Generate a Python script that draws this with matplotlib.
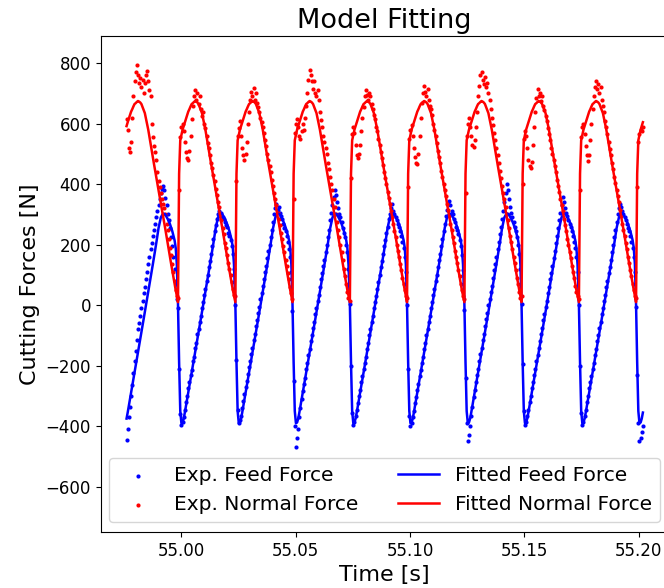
import matplotlib

matplotlib.use("Agg")
import matplotlib.pyplot as plt
import numpy as np

# start of each tooth pass [s]; the record begins and ends part-way through a pass
pass_starts = [54.9735, 54.9985, 55.0236, 55.0486, 55.0737, 55.0987, 55.1238, 55.1488, 55.1739, 55.1989]
sample_step = 0.0005  # s
first_pass_skip = 5  # samples of the first pass that precede the record

# fitted force over one tooth pass [N]
fit_feed = [5, -190, -350, -390, -388, -375, -355, -333, -312, -290,
            -268, -247, -225, -202, -180, -157, -135, -112, -90, -67,
            -45, -22, 0, 22, 45, 67, 90, 112, 135, 158,
            182, 205, 230, 255, 273, 290, 297, 303, 302, 300,
            292, 285, 277, 268, 257, 245, 230, 215, 190, 135]
fit_normal = [10, 435, 545, 562, 580, 592, 605, 617, 628, 640,
              648, 657, 665, 668, 672, 675, 673, 670, 665, 655,
              645, 635, 617, 598, 580, 557, 533, 510, 488, 467,
              445, 423, 402, 380, 358, 337, 315, 293, 272, 250,
              227, 203, 180, 158, 137, 115, 93, 72, 50, 31]

# measured feed force per pass [N]
exp_feed = [
    [-445, -410, -370, -335, -300, -265, -225, -185, -150, -115,
     -80, -60, -35, -10, 15, 40, 60, 85, 110, 135,
     160, 185, 205, 230, 250, 270, 290, 310, 330, 350,
     370, 385, 395, 380, 355, 330, 300, 280, 255, 225,
     195, 160, 120, 70, 20],
    [-10, -210, -360, -395, -385, -370, -345, -320, -300, -275,
     -255, -230, -215, -185, -170, -140, -125, -95, -80, -55,
     -35, -10, 10, 35, 55, 80, 100, 125, 145, 170,
     195, 220, 245, 265, 285, 300, 310, 295, 305, 290,
     285, 275, 265, 260, 240, 230, 215, 195, 170, 120],
    [0, -180, -345, -390, -380, -365, -340, -318, -295, -270,
     -250, -228, -205, -185, -160, -140, -115, -95, -70, -50,
     -25, -5, 20, 40, 65, 85, 110, 130, 155, 180,
     200, 225, 250, 275, 300, 320, 335, 315, 325, 305,
     295, 285, 270, 255, 245, 230, 210, 185, 160, 110],
    [-20, -250, -400, -468, -440, -410, -370, -340, -310, -285,
     -260, -240, -210, -190, -165, -145, -120, -100, -75, -55,
     -30, -10, 15, 35, 60, 85, 105, 130, 150, 175,
     200, 225, 250, 280, 305, 330, 357, 380, 365, 340,
     320, 300, 290, 275, 255, 240, 225, 200, 175, 120],
    [5, -200, -355, -396, -385, -365, -345, -325, -300, -280,
     -255, -235, -210, -190, -170, -145, -125, -100, -80, -55,
     -35, -10, 10, 30, 55, 75, 100, 125, 145, 170,
     195, 215, 240, 260, 285, 300, 320, 335, 310, 300,
     290, 280, 270, 260, 245, 230, 210, 190, 160, 110],
    [0, -210, -365, -400, -390, -370, -350, -325, -305, -280,
     -260, -235, -215, -190, -170, -145, -125, -100, -80, -55,
     -35, -10, 10, 35, 55, 80, 100, 125, 150, 170,
     195, 220, 245, 270, 295, 315, 335, 345, 330, 310,
     300, 285, 275, 260, 250, 235, 215, 195, 165, 115],
    [-15, -240, -390, -450, -430, -400, -365, -335, -305, -280,
     -255, -230, -210, -185, -160, -140, -115, -95, -70, -45,
     -25, 0, 20, 45, 65, 90, 115, 135, 160, 185,
     210, 235, 260, 285, 310, 340, 370, 400, 380, 350,
     325, 305, 290, 275, 260, 245, 225, 200, 170, 120],
    [5, -195, -350, -395, -385, -365, -345, -320, -300, -275,
     -255, -230, -210, -185, -165, -140, -120, -95, -75, -50,
     -30, -5, 15, 40, 60, 85, 105, 130, 155, 180,
     205, 230, 255, 280, 305, 330, 358, 340, 320, 305,
     295, 280, 270, 260, 245, 230, 210, 190, 160, 110],
    [0, -200, -355, -395, -385, -365, -345, -320, -300, -275,
     -255, -235, -210, -190, -165, -145, -120, -100, -75, -55,
     -30, -10, 15, 35, 60, 80, 105, 125, 150, 175,
     200, 225, 250, 275, 300, 320, 335, 325, 310, 300,
     290, 280, 270, 255, 245, 230, 210, 190, 160, 110],
    [-5, -230, -390, -450, -440, -420, -400],
]

# measured normal force per pass [N]
exp_normal = [
    [615, 580, 520, 505, 540, 620, 690, 740, 770, 795,
     760, 735, 750, 720, 745, 700, 735, 760, 775, 740,
     710, 690, 600, 555, 525, 505, 480, 440, 410, 390,
     370, 350, 335, 320, 300, 270, 250, 220, 190, 165,
     135, 110, 80, 50, 30],
    [25, 380, 555, 590, 600, 575, 540, 505, 485, 480,
     510, 560, 615, 660, 690, 711, 680, 700, 665, 690,
     650, 625, 640, 600, 585, 560, 535, 520, 495, 470,
     455, 430, 410, 385, 365, 340, 325, 300, 280, 255,
     235, 205, 190, 165, 140, 120, 100, 75, 55, 35],
    [30, 410, 560, 585, 610, 560, 520, 495, 480, 500,
     540, 600, 640, 680, 705, 690, 717, 680, 700, 670,
     655, 640, 620, 605, 590, 570, 545, 525, 500, 480,
     460, 440, 415, 395, 370, 350, 330, 305, 285, 265,
     240, 220, 195, 175, 150, 130, 105, 85, 60, 40],
    [20, 350, 570, 600, 615, 590, 560, 550, 575, 600,
     580, 620, 660, 700, 745, 777, 760, 740, 715, 740,
     700, 690, 711, 680, 640, 612, 590, 560, 540, 520,
     500, 470, 450, 425, 400, 380, 350, 325, 300, 275,
     250, 225, 200, 175, 150, 120, 95, 70, 45, 25],
    [15, 420, 565, 590, 570, 530, 495, 487, 500, 530,
     575, 620, 655, 690, 711, 695, 680, 700, 690, 665,
     650, 630, 615, 590, 575, 550, 530, 505, 485, 465,
     440, 420, 400, 375, 355, 335, 310, 290, 270, 245,
     225, 200, 180, 160, 135, 115, 90, 70, 50, 30],
    [25, 390, 550, 580, 595, 560, 520, 490, 470, 466,
     500, 560, 620, 670, 700, 725, 705, 690, 715, 680,
     660, 650, 630, 600, 580, 560, 535, 510, 490, 470,
     445, 425, 400, 380, 360, 335, 315, 295, 270, 250,
     225, 205, 180, 160, 140, 115, 95, 70, 50, 30],
    [20, 370, 560, 600, 620, 590, 560, 530, 523, 545,
     590, 640, 690, 725, 760, 770, 745, 730, 755, 720,
     735, 700, 680, 650, 620, 595, 570, 545, 520, 495,
     470, 445, 420, 395, 370, 350, 325, 300, 280, 255,
     230, 210, 185, 160, 140, 115, 90, 70, 45, 25],
    [30, 400, 550, 575, 560, 520, 480, 460, 455, 475,
     530, 590, 640, 685, 714, 690, 700, 675, 690, 660,
     645, 625, 610, 585, 565, 545, 520, 500, 480, 460,
     440, 415, 395, 375, 350, 330, 310, 285, 265, 245,
     220, 200, 175, 155, 130, 110, 90, 65, 45, 30],
    [20, 380, 555, 590, 600, 565, 525, 495, 478, 495,
     545, 600, 650, 690, 720, 740, 715, 730, 700, 720,
     680, 660, 640, 610, 590, 565, 540, 515, 495, 470,
     450, 425, 405, 380, 360, 340, 315, 295, 270, 250,
     230, 205, 185, 160, 140, 115, 95, 70, 50, 30],
    [25, 390, 540, 565, 580, 575, 590],
]


def assemble(passes, fitted):
    """Join the per-pass samples into one record, with the model on the same times."""
    t_all, exp_all, fit_all = [], [], []
    for k, (start, values) in enumerate(zip(pass_starts, passes)):
        skip = first_pass_skip if k == 0 else 0
        idx = np.arange(skip, skip + len(values))
        t_all.append(start + sample_step * idx)
        exp_all.append(values)
        fit_all.append(np.asarray(fitted)[idx])
    return np.concatenate(t_all), np.concatenate(exp_all), np.concatenate(fit_all)


t_feed, feed, feed_fit = assemble(exp_feed, fit_feed)
t_normal, normal, normal_fit = assemble(exp_normal, fit_normal)

fig = plt.figure(figsize=(6.64, 5.88), dpi=100)
ax = fig.add_axes([0.1517, 0.0952, 0.8554, 0.8436])

ax.scatter(t_feed, feed, s=9, color="blue", linewidths=0, label="Exp. Feed Force")
ax.scatter(t_normal, normal, s=9, color="red", linewidths=0, label="Exp. Normal Force")
ax.plot(t_feed, feed_fit, color="blue", lw=1.8, label="Fitted Feed Force")
ax.plot(t_normal, normal_fit, color="red", lw=1.8, label="Fitted Normal Force")

ax.set_ylim(-750, 890)
ax.ticklabel_format(axis="x", useOffset=False)
ax.tick_params(labelsize=12)
ax.set_title("Model Fitting", fontsize=19.5)
ax.set_xlabel("Time [s]", fontsize=16)
ax.set_ylabel("Cutting Forces [N]", fontsize=16)
ax.legend(loc="lower center", ncol=2, fontsize=14.5)

fig.savefig("out.png", dpi=100)
